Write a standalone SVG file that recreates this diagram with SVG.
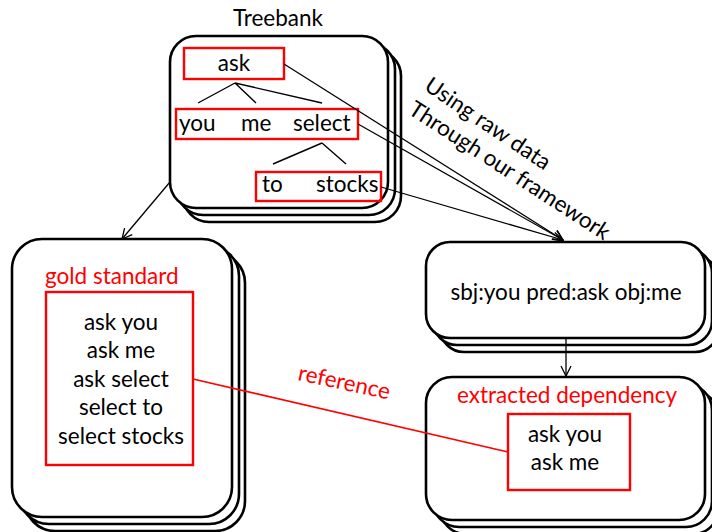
<svg xmlns="http://www.w3.org/2000/svg" width="712" height="532" viewBox="0 0 712 532">
  <defs>
    <style>
      .card { fill: #ffffff; stroke: #000000; stroke-width: 2.6; }
      .hl { fill: none; stroke: #ff0000; stroke-width: 2.4; }
      .txt { font-family: Lato, "Open Sans", "Liberation Sans", sans-serif; font-size: 22.5px; fill: #000000; }
      .red { fill: #ff0000; }
      .mid { text-anchor: middle; }
      .edge { fill: none; stroke: #000000; stroke-width: 1.3; }
      .tree { fill: none; stroke: #000000; stroke-width: 1.4; }
    </style>
    <marker id="open" viewBox="0 0 12 12" refX="11" refY="6" markerWidth="12" markerHeight="12" markerUnits="userSpaceOnUse" orient="auto">
      <polyline points="1,1 11,6 1,11" fill="none" stroke="#000000" stroke-width="1.3"/>
    </marker>
  </defs>

  <rect width="712" height="532" fill="#ffffff"/>

  <!-- Treebank stack -->
  <g id="treebank">
    <text class="txt mid" x="278" y="26">Treebank</text>
    <rect class="card" x="183" y="50" width="218" height="172" rx="26"/>
    <rect class="card" x="177" y="43" width="218" height="172" rx="26"/>
    <rect class="card" x="170" y="36" width="218" height="172" rx="26"/>
    <rect class="hl" x="184" y="48" width="100" height="31"/>
    <text class="txt mid" x="234" y="71">ask</text>
    <path class="tree" d="M235,83 L198,103 M235,83 L256,103 M235,83 L322,103"/>
    <rect class="hl" x="176" y="109" width="182" height="30"/>
    <text class="txt" x="179" y="131">you</text>
    <text class="txt" x="241" y="131">me</text>
    <text class="txt" x="293" y="131">select</text>
    <path class="tree" d="M322,143 L273,164 M322,143 L346,164"/>
    <rect class="hl" x="256" y="172" width="125" height="29"/>
    <text class="txt" x="262" y="192">to</text>
    <text class="txt" x="316" y="192">stocks</text>
  </g>

  <!-- gold standard stack -->
  <g id="gold">
    <rect class="card" x="25" y="253" width="220" height="278" rx="30"/>
    <rect class="card" x="19" y="246" width="220" height="278" rx="30"/>
    <rect class="card" x="12" y="239" width="220" height="278" rx="30"/>
    <text class="txt red" x="45" y="284">gold standard</text>
    <rect class="hl" x="46" y="292" width="147" height="173"/>
    <text class="txt mid" x="121" y="330">ask you</text>
    <text class="txt mid" x="121" y="358">ask me</text>
    <text class="txt mid" x="121" y="387">ask select</text>
    <text class="txt mid" x="121" y="415">select to</text>
    <text class="txt mid" x="121" y="444">select stocks</text>
  </g>

  <!-- parsed triple stack -->
  <g id="triple">
    <rect class="card" x="440" y="256" width="279" height="96" rx="24"/>
    <rect class="card" x="433" y="249" width="279" height="96" rx="24"/>
    <rect class="card" x="426" y="242" width="279" height="96" rx="24"/>
    <text class="txt mid" x="566" y="300">sbj:you pred:ask obj:me</text>
  </g>

  <!-- extracted dependency stack -->
  <g id="extracted">
    <rect class="card" x="440" y="391" width="279" height="143" rx="26"/>
    <rect class="card" x="433" y="384" width="279" height="143" rx="26"/>
    <rect class="card" x="426" y="377" width="279" height="143" rx="26"/>
    <text class="txt red mid" x="567" y="403">extracted dependency</text>
    <rect class="hl" x="508" y="414" width="122" height="76"/>
    <text class="txt mid" x="565" y="442">ask you</text>
    <text class="txt mid" x="565" y="470">ask me</text>
  </g>

  <!-- connectors -->
  <g id="connectors">
    <line class="edge" x1="284" y1="64" x2="563" y2="240" marker-end="url(#open)"/>
    <line class="edge" x1="358" y1="124" x2="563" y2="240" marker-end="url(#open)"/>
    <line class="edge" x1="381" y1="187" x2="563" y2="240" marker-end="url(#open)"/>
    <line class="edge" x1="170" y1="182" x2="122" y2="239" marker-end="url(#open)"/>
    <line class="edge" x1="566" y1="338" x2="566" y2="376" marker-end="url(#open)"/>
    <line x1="193" y1="379" x2="508" y2="452" stroke="#ff0000" stroke-width="1.6"/>
    <text class="txt" transform="translate(423,89) rotate(34)">Using raw data</text>
    <text class="txt" transform="translate(407,113) rotate(33)">Through our framework</text>
    <text class="txt red" transform="translate(297,380) rotate(12)">reference</text>
  </g>
</svg>
